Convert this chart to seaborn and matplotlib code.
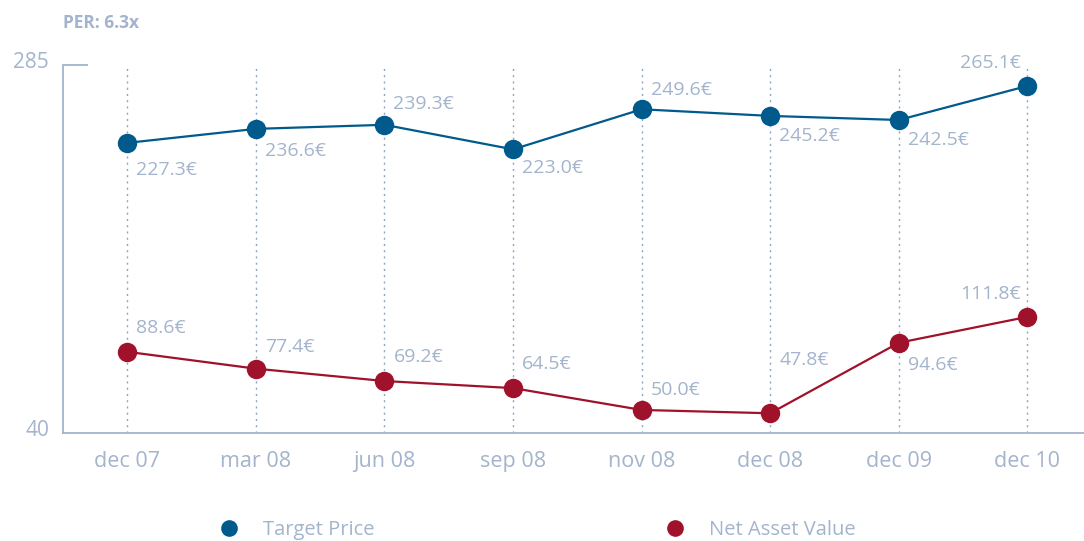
import matplotlib
matplotlib.use("Agg")
import matplotlib.pyplot as plt
import matplotlib.transforms as mtransforms
from matplotlib.lines import Line2D
import pandas as pd
import seaborn as sns

periods = ["dec 07", "mar 08", "jun 08", "sep 08", "nov 08", "dec 08", "dec 09", "dec 10"]
target_price = [227.3, 236.6, 239.3, 223.0, 249.6, 245.2, 242.5, 265.1]
net_asset_value = [88.6, 77.4, 69.2, 64.5, 50.0, 47.8, 94.6, 111.8]
series_names = ["Target Price", "Net Asset Value"]
per_text = "PER: 6.3x"

BLUE = "#005a8c"
RED = "#a0122c"
GREY = "#a3b4cc"

# label placement per point: (dx px, dy px, ha)
tp_offsets = [(9, -27, "left"), (9, -22, "left"), (9, 21, "left"), (9, -19, "left"),
              (9, 19, "left"), (9, -20, "left"), (9, -20, "left"), (-7, 23, "right")]
nav_offsets = [(9, 24, "left"), (9, 22, "left"), (9, 24, "left"), (9, 24, "left"),
               (9, 20, "left"), (9, 53, "left"), (9, -22, "left"), (-7, 23, "right")]

df = pd.DataFrame({
    "idx": list(range(len(periods))) * 2,
    "value": target_price + net_asset_value,
    "series": [series_names[0]] * len(periods) + [series_names[1]] * len(periods),
})

sns.set_theme(style="white")
plt.rcParams["font.family"] = ["Open Sans", "DejaVu Sans"]

fig = plt.figure(figsize=(10.84, 5.41), dpi=100)
ax = fig.add_axes([63 / 1084, 108 / 541, 1 - 63 / 1084, 368 / 541])

sns.lineplot(data=df, x="idx", y="value", hue="series", palette=[BLUE, RED],
             marker="o", markersize=14, markeredgewidth=0, linewidth=1.6,
             legend=False, ax=ax, zorder=3)

for vals, offs in [(target_price, tp_offsets), (net_asset_value, nav_offsets)]:
    for i, (v, (dx, dy, ha)) in enumerate(zip(vals, offs)):
        ax.annotate(f"{v:.1f}€", (i, v), xytext=(dx, dy), textcoords="offset pixels",
                    ha=ha, va="center", fontsize=14, color=GREY)

ylo, yhi = 34.7, 279
ax.set_ylim(ylo, yhi)
ax.set_xlim(-0.5, 7.44)
ax.set_xticks(range(len(periods)), labels=periods)
ax.set_yticks([ylo, yhi], labels=["40", "285"])
ax.set_xlabel("")
ax.set_ylabel("")

for s in ["top", "right"]:
    ax.spines[s].set_visible(False)
for s in ["left", "bottom"]:
    ax.spines[s].set_color(GREY)
    ax.spines[s].set_linewidth(1.3)

ax.tick_params(axis="x", length=0, pad=13, labelsize=15.5, labelcolor=GREY)
ax.tick_params(axis="y", length=0, pad=10, labelsize=15, labelcolor=GREY)
shift = mtransforms.ScaledTranslation(0, 5 / 100, fig.dpi_scale_trans)
for lab in ax.get_yticklabels():
    lab.set_transform(lab.get_transform() + shift)
# short inward tick at the top of the value axis
ax.plot([0, 25 / 1021], [1, 1], transform=ax.transAxes, color=GREY,
        linewidth=1.3, clip_on=False, solid_capstyle="butt")

ax.grid(axis="x", color="#8ea6c6", linestyle=(0, (1.5, 3)), linewidth=1.0)
ax.grid(axis="y", visible=False)
ax.set_axisbelow(True)

fig.text(63 / 1084, 1 - 23 / 541, per_text, fontsize=12.5, fontweight="bold",
         color=GREY, va="center", ha="left")

handles = [Line2D([], [], marker="o", linestyle="none", markersize=12,
                  markeredgewidth=0, color=c) for c in (BLUE, RED)]
fig.legend(handles, series_names, loc="center left", bbox_to_anchor=(219 / 1084, 1 - 530 / 541),
           ncol=2, frameon=False, fontsize=14.5, labelcolor=GREY, handlelength=1,
           handletextpad=1.2, columnspacing=14.4, borderaxespad=0, borderpad=0)

fig.savefig("out.png", dpi=100)
